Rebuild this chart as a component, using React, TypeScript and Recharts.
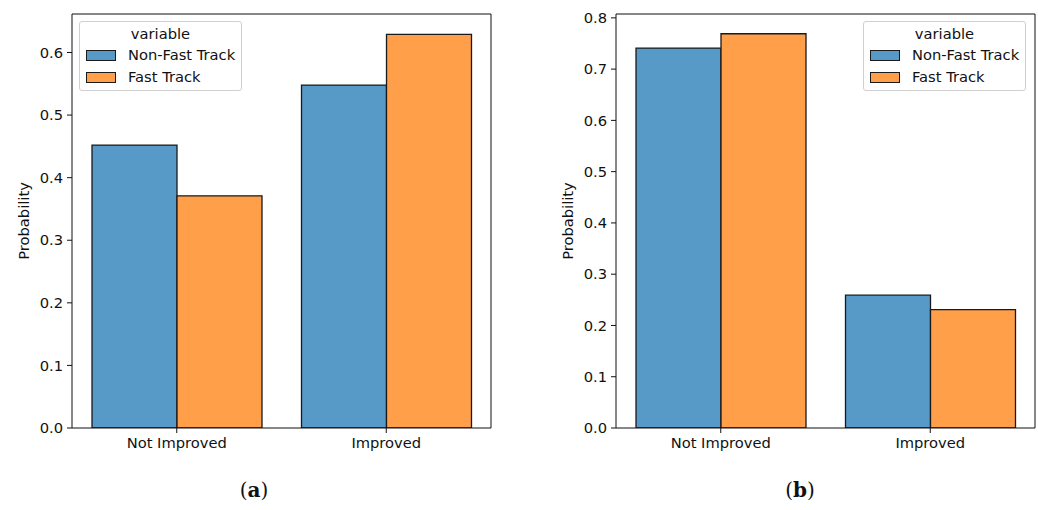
import { BarChart, Bar, XAxis, YAxis, Legend, Label } from 'recharts';

const categories = ['Not Improved', 'Improved'];
const seriesNames = ['Non-Fast Track', 'Fast Track'];

// panel (a)
const nonFastA = [0.452, 0.548];
const fastA = [0.371, 0.629];
const ticksA = [0, 0.1, 0.2, 0.3, 0.4, 0.5, 0.6];

// panel (b)
const nonFastB = [0.741, 0.259];
const fastB = [0.769, 0.231];
const ticksB = [0, 0.1, 0.2, 0.3, 0.4, 0.5, 0.6, 0.7, 0.8];

const BLUE = '#5799c7';
const ORANGE = '#ff9f4a';
const EDGE = '#1a1a1a';
const FONT = '"DejaVu Sans", sans-serif';
const FS = 14.7;

function toRows(a: number[], b: number[]) {
  return categories.map((c, i) => ({ cat: c, nonFast: a[i], fast: b[i] }));
}

function LegendBox() {
  const colors = [BLUE, ORANGE];
  return (
    <div
      style={{
        width: 163,
        height: 70,
        border: '1px solid #d0d0d0',
        borderRadius: 3,
        background: 'rgba(255,255,255,0.8)',
        fontFamily: FONT,
        fontSize: FS,
        color: '#111',
        boxSizing: 'border-box',
        position: 'relative',
      }}
    >
      <div style={{ position: 'absolute', top: 3, left: 0, width: '100%', textAlign: 'center', lineHeight: '18px' }}>variable</div>
      {seriesNames.map((s, i) => (
        <div key={s} style={{ position: 'absolute', left: 6, top: 24 + i * 22, display: 'flex', alignItems: 'center' }}>
          <span
            style={{
              display: 'inline-block',
              width: 28,
              height: 9,
              background: colors[i],
              border: `1.3px solid ${EDGE}`,
              marginRight: 12,
            }}
          />
          <span style={{ lineHeight: '18px' }}>{s}</span>
        </div>
      ))}
    </div>
  );
}

function Panel({
  data,
  ticks,
  max,
  yAxisWidth,
  rightMargin,
  legendLeft,
}: {
  data: { cat: string; nonFast: number; fast: number }[];
  ticks: number[];
  max: number;
  yAxisWidth: number;
  rightMargin: number;
  legendLeft: number;
}) {
  const tickStyle = { fill: '#111', fontSize: FS, fontFamily: FONT };
  return (
    <BarChart
      width={yAxisWidth + 419 + rightMargin + 1}
      height={470}
      data={data}
      margin={{ top: 13, right: rightMargin, bottom: 0, left: 0 }}
      barCategoryGap={20}
      barGap={0}
    >
      <XAxis
        dataKey="cat"
        tick={tickStyle}
        tickSize={5}
        tickMargin={5}
        height={42}
        axisLine={{ stroke: '#111', strokeWidth: 1 }}
        tickLine={{ stroke: '#111' }}
      />
      <XAxis xAxisId="top" dataKey="cat" orientation="top" height={1} tick={false} tickLine={false} axisLine={{ stroke: '#111' }} />
      <YAxis
        type="number"
        domain={[0, max]}
        ticks={ticks}
        allowDataOverflow
        interval={0}
        tick={tickStyle}
        tickFormatter={(v: number) => v.toFixed(1)}
        tickSize={5}
        tickMargin={4}
        width={yAxisWidth}
        axisLine={{ stroke: '#111' }}
        tickLine={{ stroke: '#111' }}
      >
        <Label
          value="Probability"
          angle={-90}
          position="insideLeft"
          offset={yAxisWidth - 48}
          style={{ textAnchor: 'middle', fill: '#111', fontSize: FS, fontFamily: FONT }}
        />
      </YAxis>
      <YAxis yAxisId="right" orientation="right" domain={[0, max]} width={1} tick={false} tickLine={false} axisLine={{ stroke: '#111' }} />
      <Legend
        layout="vertical"
        align="center"
        verticalAlign="middle"
        wrapperStyle={{ left: legendLeft, top: 21, width: 'auto' }}
        content={() => <LegendBox />}
      />
      <Bar dataKey="nonFast" name={seriesNames[0]} fill={BLUE} stroke={EDGE} strokeWidth={1.3} isAnimationActive={false} />
      <Bar dataKey="fast" name={seriesNames[1]} fill={ORANGE} stroke={EDGE} strokeWidth={1.3} isAnimationActive={false} />
    </BarChart>
  );
}

const captionStyle: React.CSSProperties = {
  position: 'absolute',
  top: 478,
  width: 60,
  textAlign: 'center',
  fontFamily: '"DejaVu Serif", serif',
  fontSize: 20,
  color: '#111',
};

export default function App() {
  return (
    <div style={{ position: 'absolute', left: 0, top: 0, width: 1038, height: 510, background: '#fff' }}>
      <div style={{ position: 'absolute', left: 0, top: 0 }}>
        <Panel data={toRows(nonFastA, fastA)} ticks={ticksA} max={0.6615} yAxisWidth={72} rightMargin={28} legendLeft={79} />
      </div>
      <div style={{ position: 'absolute', left: 520, top: 0 }}>
        <Panel data={toRows(nonFastB, fastB)} ticks={ticksB} max={0.8075} yAxisWidth={96} rightMargin={1} legendLeft={343} />
      </div>
      <div style={{ ...captionStyle, left: 224 }}>
        (<b>a</b>)
      </div>
      <div style={{ ...captionStyle, left: 770 }}>
        (<b>b</b>)
      </div>
    </div>
  );
}
